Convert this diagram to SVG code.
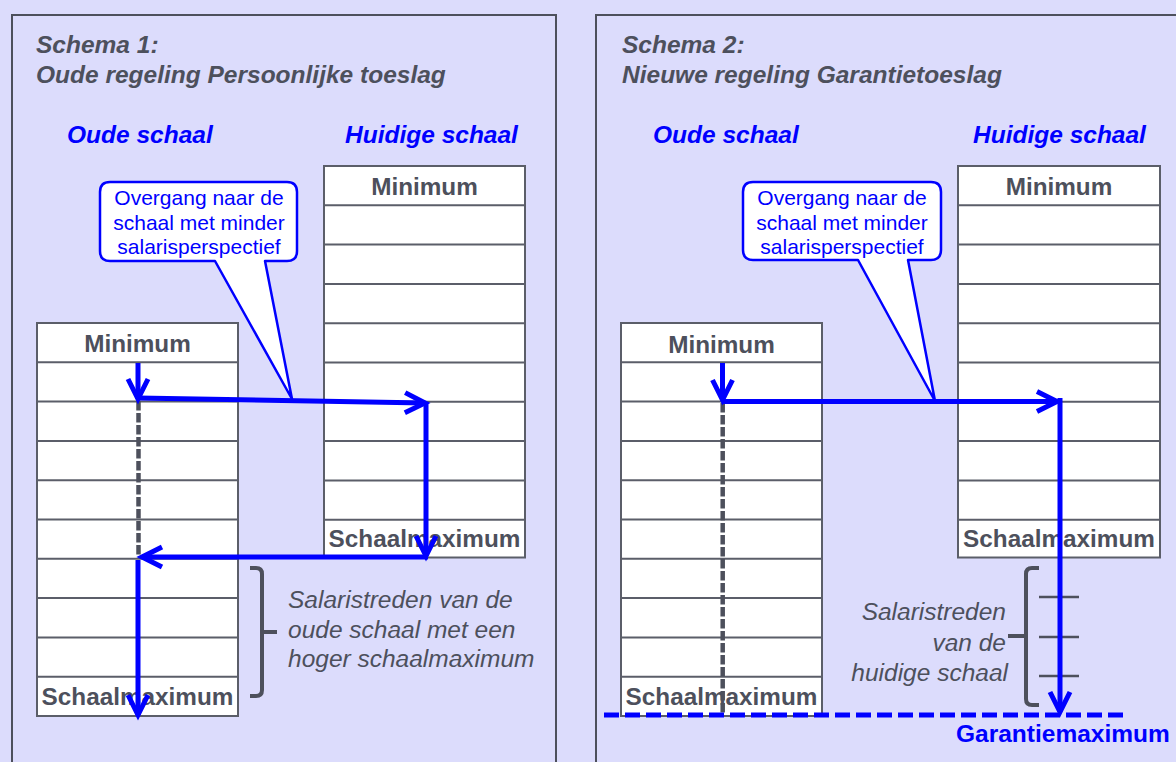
<svg xmlns="http://www.w3.org/2000/svg" width="1176" height="762" viewBox="0 0 1176 762">
<style>
.title{font-family:"Liberation Sans",Arial,sans-serif;font-size:24.5px;font-weight:bold;font-style:italic;fill:#4D505C}
.head{font-family:"Liberation Sans",Arial,sans-serif;font-size:24.5px;font-weight:bold;font-style:italic;fill:#0000FF}
.cell{font-family:"Liberation Sans",Arial,sans-serif;font-size:24.3px;font-weight:bold;fill:#4D505C;text-anchor:middle}
.note{font-family:"Liberation Sans",Arial,sans-serif;font-size:24.5px;font-style:italic;fill:#4D505C}
.call{font-family:"Liberation Sans",Arial,sans-serif;font-size:21px;fill:#0000FF;text-anchor:middle}
.panel{fill:#DCDCFC;stroke:#4D505C;stroke-width:2}
.tbl{fill:#FFFFFF;stroke:#5B5E69;stroke-width:2}
.row{stroke:#5B5E69;stroke-width:2}
.bubble{fill:#FFFFFF;stroke:#0000FF;stroke-width:2.5;stroke-linejoin:round}
.arrow{stroke:#0000FF;stroke-width:5;fill:none;marker-end:url(#ah)}
.gdash{stroke:#4D505C;stroke-width:4.5;stroke-dasharray:9.5 2.5;fill:none}
.bdash{stroke:#0000FF;stroke-width:5;stroke-dasharray:15 6;fill:none}
.brk{stroke:#4D505C;stroke-width:4;fill:none}
.tick{stroke:#4D505C;stroke-width:2.5}
</style>
<defs>
<marker id="ah" markerUnits="userSpaceOnUse" markerWidth="30" markerHeight="30" viewBox="-4 -4 30 30" refX="20" refY="11" orient="auto">
<path d="M0,1 L20,11 L0,21" fill="none" stroke="#0000FF" stroke-width="5"/>
</marker>
<g id="rows">
<line x1="0" y1="39.3" x2="201" y2="39.3" class="row"/>
<line x1="0" y1="78.6" x2="201" y2="78.6" class="row"/>
<line x1="0" y1="117.9" x2="201" y2="117.9" class="row"/>
<line x1="0" y1="157.2" x2="201" y2="157.2" class="row"/>
<line x1="0" y1="196.5" x2="201" y2="196.5" class="row"/>
<line x1="0" y1="235.8" x2="201" y2="235.8" class="row"/>
<line x1="0" y1="275.1" x2="201" y2="275.1" class="row"/>
<line x1="0" y1="314.4" x2="201" y2="314.4" class="row"/>
<line x1="0" y1="353.7" x2="201" y2="353.7" class="row"/>
</g>
</defs>
<rect x="0" y="0" width="1176" height="762" fill="#DCDCFC"/>

<g id="panel1">
<rect class="panel" x="12" y="15" width="544" height="800"/>
<text class="title" x="36" y="53">Schema 1:</text>
<text class="title" x="36" y="83">Oude regeling Persoonlijke toeslag</text>
<text class="head" x="67" y="142.5">Oude schaal</text>
<text class="head" x="345" y="142.5">Huidige schaal</text>
</g>

<g id="panel2">
<rect class="panel" x="596" y="15" width="620" height="800"/>
<text class="title" x="622" y="53">Schema 2:</text>
<text class="title" x="622" y="83">Nieuwe regeling Garantietoeslag</text>
<text class="head" x="653" y="142.5">Oude schaal</text>
<text class="head" x="973" y="142.5">Huidige schaal</text>
</g>

<g id="oude-schaal-1">
<rect class="tbl" x="37" y="323" width="201" height="393"/>
<use href="#rows" x="37" y="323"/>
<text class="cell" x="137.5" y="352">Minimum</text>
<text class="cell" x="137.5" y="704.5">Schaalmaximum</text>
</g>

<g id="huidige-schaal-1">
<rect class="tbl" x="324" y="166" width="201" height="391.5"/>
<use href="#rows" x="324" y="166"/>
<text class="cell" x="424.5" y="195">Minimum</text>
<text class="cell" x="424.5" y="546.5">Schaalmaximum</text>
</g>

<g id="oude-schaal-2">
<rect class="tbl" x="621" y="323" width="201" height="393"/>
<use href="#rows" x="621" y="323"/>
<text class="cell" x="721.5" y="352.5">Minimum</text>
<text class="cell" x="721.5" y="704.5">Schaalmaximum</text>
</g>

<g id="huidige-schaal-2">
<rect class="tbl" x="958" y="166" width="202" height="391.5"/>
<use href="#rows" x="958" y="166"/>
<text class="cell" x="1059" y="195">Minimum</text>
<text class="cell" x="1059" y="546.5">Schaalmaximum</text>
</g>

<g id="callout-1">
<path class="bubble" d="M110,182 H287 Q297,182 297,192 V251 Q297,261 287,261 H265 L292,399 L215,261 H110 Q100,261 100,251 V192 Q100,182 110,182 Z"/>
<text class="call" x="199" y="205">Overgang naar de</text>
<text class="call" x="199" y="230">schaal met minder</text>
<text class="call" x="199" y="254">salarisperspectief</text>
</g>

<g id="callout-2">
<path class="bubble" d="M753,182 H931 Q941,182 941,192 V250 Q941,260 931,260 H908 L935,401 L858,260 H753 Q743,260 743,250 V192 Q743,182 753,182 Z"/>
<text class="call" x="842" y="205">Overgang naar de</text>
<text class="call" x="842" y="230">schaal met minder</text>
<text class="call" x="842" y="254">salarisperspectief</text>
</g>

<g id="note-1">
<path class="brk" d="M250,568 H256 Q262,568 262,574 V690 Q262,696 256,696 H250 M262,632 H277"/>
<text class="note" x="288" y="608">Salaristreden van de</text>
<text class="note" x="288" y="638">oude schaal met een</text>
<text class="note" x="288" y="667">hoger schaalmaximum</text>
</g>

<g id="note-2">
<path class="brk" d="M1039,568 H1032 Q1026,568 1026,574 V699 Q1026,705 1032,705 H1039 M1026,636 H1008"/>
<line class="tick" x1="1039" y1="597" x2="1079" y2="597"/>
<line class="tick" x1="1039" y1="637" x2="1079" y2="637"/>
<line class="tick" x1="1039" y1="676" x2="1079" y2="676"/>
<text class="note" x="1006" y="620" text-anchor="end">Salaristreden</text>
<text class="note" x="1006" y="651" text-anchor="end">van de</text>
<text class="note" x="1008" y="681" text-anchor="end">huidige schaal</text>
</g>

<g id="connectors">
<line class="gdash" x1="138.5" y1="401" x2="138.5" y2="556"/>
<line class="gdash" x1="722.7" y1="403" x2="722.7" y2="715"/>
<line class="arrow" x1="138" y1="363" x2="138" y2="399"/>
<line class="arrow" x1="138" y1="398" x2="425" y2="403"/>
<line class="arrow" x1="426" y1="403" x2="426" y2="556"/>
<line class="arrow" x1="428" y1="557" x2="142" y2="557"/>
<line class="arrow" x1="138" y1="560" x2="138" y2="715"/>
<line class="arrow" x1="722.5" y1="363" x2="722.5" y2="400"/>
<line class="arrow" x1="722" y1="401.5" x2="1057" y2="401.5"/>
<line class="arrow" x1="1060" y1="398" x2="1060" y2="712"/>
<line class="bdash" x1="604" y1="715" x2="1128" y2="715"/>
</g>
<g id="garantiemaximum">
<text class="head" style="font-style:normal" x="956" y="742">Garantiemaximum</text>
</g>
</svg>
